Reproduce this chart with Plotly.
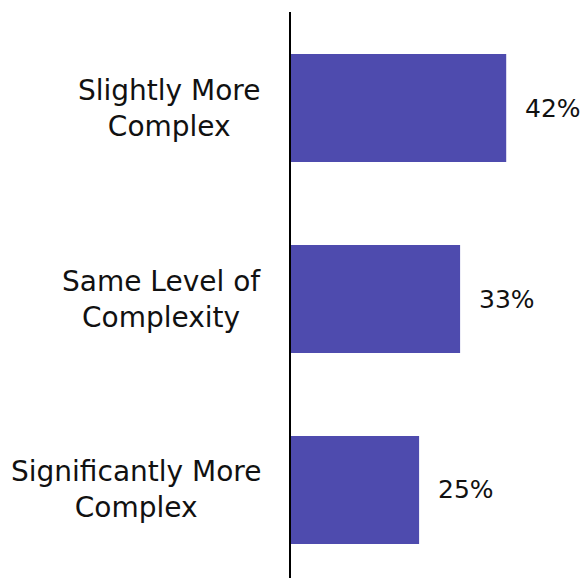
import plotly.graph_objects as go

categories = ["Slightly More<br>Complex", "Same Level of<br>Complexity", "Significantly More<br>Complex"]
values = [42, 33, 25]
value_labels = ["42%", "33%", "25%"]

BAR_COLOR = "#4E4BAE"
FONT = "'DejaVu Sans', sans-serif"
TEXT_COLOR = "#111111"
FSIZE = 28

fig = go.Figure(go.Bar(
    x=values, y=categories, orientation="h",
    marker=dict(color=BAR_COLOR, line=dict(width=0)),
    width=0.565, hoverinfo="skip",
))

annotations = []
for c, v, t in zip(categories, values, value_labels):
    annotations.append(dict(x=v, y=c, xref="x", yref="y", text=t, showarrow=False,
                            xanchor="left", xshift=17,
                            font=dict(family=FONT, size=25, color=TEXT_COLOR)))
    annotations.append(dict(x=0, y=c, xref="x", yref="y", text=c, showarrow=False,
                            xanchor="right", xshift=-28, align="center",
                            font=dict(family=FONT, size=FSIZE, color=TEXT_COLOR)))

fig.update_layout(
    width=580, height=580,
    margin=dict(l=291, r=0, t=12, b=2),
    paper_bgcolor="white", plot_bgcolor="white",
    showlegend=False,
    annotations=annotations,
    xaxis=dict(range=[0, 56.4], visible=False, fixedrange=True),
    yaxis=dict(type="category", categoryorder="array", categoryarray=categories,
               range=[2.461, -0.503], showticklabels=False, showgrid=False,
               zeroline=False, ticks="", showline=True, linecolor="black",
               linewidth=2, fixedrange=True),
)

fig.write_html("out.html", config={"displayModeBar": False})
